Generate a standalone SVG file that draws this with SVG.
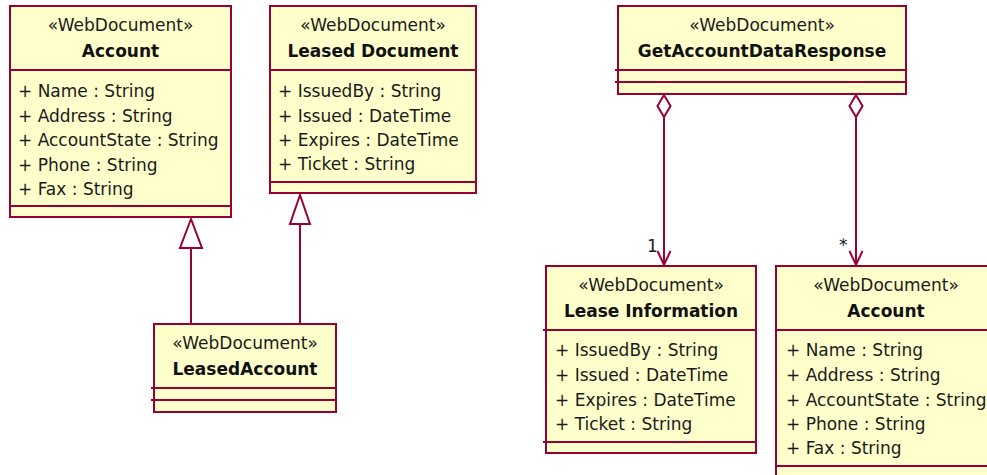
<svg xmlns="http://www.w3.org/2000/svg" width="987" height="475" viewBox="0 0 987 475">
<style>
.box{fill:#FFFFCC;stroke:#990033;stroke-width:2}
.sep{stroke:#990033;stroke-width:2;fill:none}
.ln{stroke:#990033;stroke-width:2;fill:none}
.tri{fill:#FFFFFF;stroke:#990033;stroke-width:2}
.dia{fill:#FFFFFF;stroke:#990033;stroke-width:2}
text{font-family:"DejaVu Sans","Liberation Sans",sans-serif;font-size:17px;fill:#1a1a1a}
.st{text-anchor:middle}
.nm{text-anchor:middle;font-weight:bold;fill:#111}
</style>
<rect width="987" height="475" fill="#FFFFFF"/>
<g id="connectors">
<polyline class="ln" points="191,248 191,324"/>
<polygon class="tri" points="191,219 180,248 202,248"/>
<polyline class="ln" points="300,224 300,324"/>
<polygon class="tri" points="300,195 290,224 310,224"/>
<polyline class="ln" points="664,117 664,265"/>
<polygon class="dia" points="664,95 670.5,106 664,117 657.5,106"/>
<polyline class="ln" points="657.5,251 664,265 670.5,251"/>
<text x="647" y="252">1</text>
<polyline class="ln" points="856,117 856,265"/>
<polygon class="dia" points="856,95 862.5,106 856,117 849.5,106"/>
<polyline class="ln" points="849.5,251 856,265 862.5,251"/>
<text x="839" y="251">*</text>
</g>
<g id="account-left">
<rect class="box" x="10" y="6" width="221" height="211"/>
<line class="sep" x1="10" y1="70" x2="231" y2="70"/>
<line class="sep" x1="10" y1="206" x2="231" y2="206"/>
<text class="st" x="120.5" y="31">«WebDocument»</text>
<text class="nm" x="120.5" y="57">Account</text>
<text x="18" y="97">+ Name : String</text>
<text x="18" y="121.5">+ Address : String</text>
<text x="18" y="146">+ AccountState : String</text>
<text x="18" y="170.5">+ Phone : String</text>
<text x="18" y="194.5">+ Fax : String</text>
</g>
<g id="leased-document">
<rect class="box" x="270" y="6" width="206" height="187"/>
<line class="sep" x1="270" y1="70" x2="476" y2="70"/>
<line class="sep" x1="270" y1="182" x2="476" y2="182"/>
<text class="st" x="373" y="31">«WebDocument»</text>
<text class="nm" x="373" y="57">Leased Document</text>
<text x="278" y="97">+ IssuedBy : String</text>
<text x="278" y="121.5">+ Issued : DateTime</text>
<text x="278" y="146">+ Expires : DateTime</text>
<text x="278" y="170">+ Ticket : String</text>
</g>
<g id="leased-account">
<rect class="box" x="154" y="324" width="182" height="88"/>
<line class="sep" x1="151" y1="388" x2="336" y2="388"/>
<line class="sep" x1="151" y1="400" x2="336" y2="400"/>
<text class="st" x="245" y="349">«WebDocument»</text>
<text class="nm" x="245" y="375">LeasedAccount</text>
</g>
<g id="get-account-data-response">
<rect class="box" x="618" y="6" width="288" height="88"/>
<line class="sep" x1="615" y1="70" x2="906" y2="70"/>
<line class="sep" x1="615" y1="82" x2="906" y2="82"/>
<text class="st" x="762" y="31">«WebDocument»</text>
<text class="nm" x="762" y="57">GetAccountDataResponse</text>
</g>
<g id="lease-information">
<rect class="box" x="546" y="266" width="210" height="187"/>
<line class="sep" x1="543" y1="330" x2="756" y2="330"/>
<line class="sep" x1="543" y1="442" x2="756" y2="442"/>
<text class="st" x="651" y="291">«WebDocument»</text>
<text class="nm" x="651" y="317">Lease Information</text>
<text x="555" y="356">+ IssuedBy : String</text>
<text x="555" y="381">+ Issued : DateTime</text>
<text x="555" y="405.5">+ Expires : DateTime</text>
<text x="555" y="430">+ Ticket : String</text>
</g>
<g id="account-right">
<rect class="box" x="776" y="266" width="220" height="211"/>
<line class="sep" x1="776" y1="330" x2="996" y2="330"/>
<line class="sep" x1="776" y1="466" x2="996" y2="466"/>
<text class="st" x="886" y="291">«WebDocument»</text>
<text class="nm" x="886" y="317">Account</text>
<text x="786" y="356">+ Name : String</text>
<text x="786" y="381">+ Address : String</text>
<text x="786" y="405.5">+ AccountState : String</text>
<text x="786" y="430">+ Phone : String</text>
<text x="786" y="454">+ Fax : String</text>
</g>
</svg>
